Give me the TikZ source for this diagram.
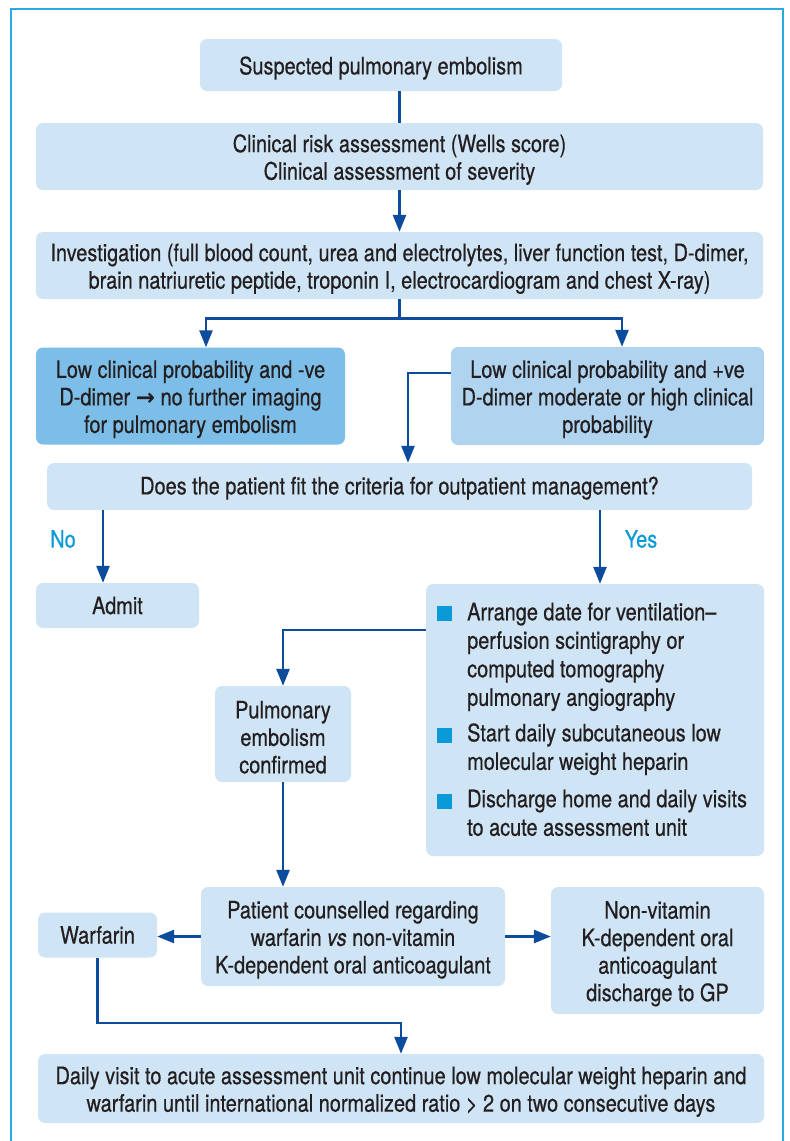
\documentclass[tikz,border=0pt]{standalone}
\usepackage{fontspec}
\setmainfont{TeX Gyre Heros}[FakeStretch=0.83,FakeBold=0.5]
\newfontfamily\arrowfont{DejaVu Sans Bold}
\usetikzlibrary{arrows.meta}
\definecolor{boxblue}{HTML}{CFE4F5}
\definecolor{darkbox}{HTML}{7DBEE8}
\definecolor{midbox}{HTML}{B0D3F0}
\definecolor{linkblue}{HTML}{0D4B9C}
\definecolor{framecyan}{HTML}{2AA8E0}
\definecolor{bulletcyan}{HTML}{0A9AD7}
\definecolor{txt}{HTML}{231F20}
\newcommand{\dn}{\rule{0pt}{24pt}}
\begin{document}
\begin{tikzpicture}[x=1pt,y=-1pt,
  box/.style={rounded corners=7pt, fill=boxblue, inner sep=0pt, align=center, text=txt,
    font=\fontsize{24}{27.5}\selectfont},
  link/.style={draw=linkblue, line width=2.6pt},
  arr/.style={link, -{Triangle[length=17pt,width=13pt]}},
  lab/.style={text=bulletcyan, font=\fontsize{24}{28}\selectfont, inner sep=0pt},
  bulletsq/.style={fill=bulletcyan, minimum size=15pt, inner sep=0pt},
  itemtext/.style={anchor=north west, inner sep=0pt, align=left, text=txt,
    font=\fontsize{24}{28.5}\selectfont},
]
\useasboundingbox (0,0) rectangle (790,1141);
\draw[framecyan, line width=2.2pt] (11,1150) -- (11,9) -- (783,9) -- (783,1150);

\node[box, minimum width=362pt, minimum height=52pt] (A) at (381,65) {\dn Suspected pulmonary embolism};
\node[box, minimum width=727pt, minimum height=67pt] (B) at (399.5,156.5)
  {\dn Clinical risk assessment (Wells score)\\Clinical assessment of severity};
\node[box, minimum width=727pt, minimum height=67pt] (C) at (399.5,265.5)
  {\dn Investigation (full blood count, urea and electrolytes, liver function test, D-dimer,\\
   brain natriuretic peptide, troponin I, electrocardiogram and chest X-ray)};
\node[box, fill=darkbox, minimum width=309pt, minimum height=97pt] (D) at (190.5,396)
  {\dn Low clinical probability and -ve\\D-dimer {\arrowfont\fontsize{23}{27.5}\selectfont →} no further imaging\\for pulmonary embolism};
\node[box, fill=midbox, minimum width=313pt, minimum height=98pt] (E) at (607.5,396)
  {\dn Low clinical probability and +ve\\D-dimer moderate or high clinical\\probability};
\node[box, minimum width=705pt, minimum height=47pt] (F) at (399.5,486.5)
  {\rule{0pt}{21pt}Does the patient fit the criteria for outpatient management?};
\node[box, minimum width=163pt, minimum height=45pt] (Admit) at (117.5,605.5) {Admit};
\node[box, minimum width=338pt, minimum height=272pt] (G) at (595,720) {};
\node[bulletsq] (b1) at (444.5,613) {};
\node[bulletsq] (b2) at (444.5,735) {};
\node[bulletsq] (b3) at (444.5,801) {};
\node[itemtext] (t1) at (467,602.5) {Arrange date for ventilation–\\perfusion scintigraphy or\\computed tomography\\pulmonary angiography};
\node[itemtext] (t2) at (467,723.2) {Start daily subcutaneous low\\molecular weight heparin};
\node[itemtext] (t3) at (467,789.5) {Discharge home and daily visits\\to acute assessment unit};
\node[box, minimum width=136pt, minimum height=96pt] (H) at (283,734)
  {\dn Pulmonary\\embolism\\confirmed};
\node[box, minimum width=304pt, minimum height=99pt] (I) at (353,936.5)
  {\dn Patient counselled regarding\\warfarin \textit{vs} non-vitamin\\K-dependent oral anticoagulant};
\node[box, minimum width=119pt, minimum height=45pt] (J) at (97.5,935) {Warfarin};
\node[box, minimum width=213pt, minimum height=127pt] (K) at (657.5,950.5)
  {\dn Non-vitamin\\K-dependent oral\\anticoagulant\\discharge to GP};
\node[box, minimum width=726pt, minimum height=69pt] (L) at (401,1088.5)
  {\dn Daily visit to acute assessment unit continue low molecular weight heparin and\\
   warfarin until international normalized ratio {>} 2 on two consecutive days};

\node[lab] (no) at (63,539) {No};
\node[lab] (yes) at (641,539) {Yes};

\draw[link] (A.south -| B.north) -- (B.north);
\draw[arr] (B.south) -- (C.north);
\draw[link] (C.south) -- ++(0,19) coordinate (split);
\draw[arr] (split) -| ([xshift=15.5pt]D.north);
\draw[arr] (split) -| ([xshift=14.5pt]E.north);
\draw[arr] ([yshift=23pt]E.west) -| ([xshift=8.5pt]F.north);
\draw[arr] ([xshift=-296.5pt]F.south) -- ([xshift=-14.5pt]Admit.north);
\draw[arr] ([xshift=200.5pt]F.south) -- ([xshift=5pt]G.north);
\draw[arr] ([yshift=90pt]G.west) -| (H.north);
\draw[arr] (H.south) -- (H.south |- I.north);
\draw[arr] (I.west) -- (I.west -| J.east);
\draw[arr] (I.east) -- (I.east -| K.west);
\draw[arr] (J.south) |- ([yshift=31pt]L.north) -- (L.north);
\end{tikzpicture}
\end{document}
